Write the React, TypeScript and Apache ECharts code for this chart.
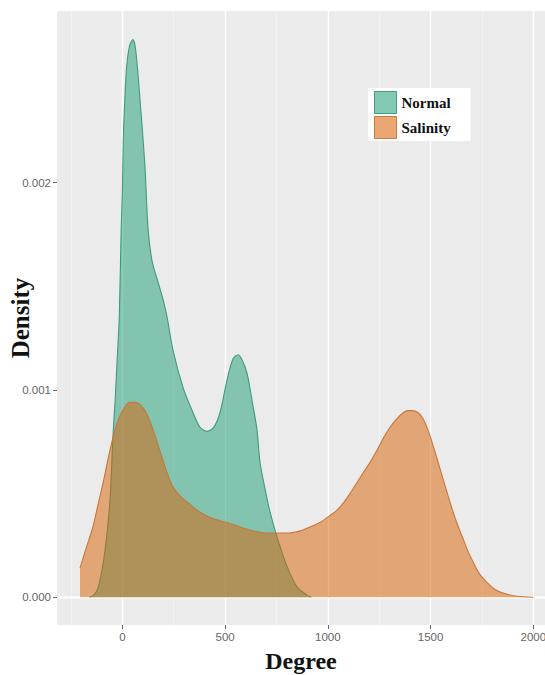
import React, { useEffect, useRef } from "react";
import * as echarts from "echarts";

const seriesNames = ["Normal", "Salinity"];

const normalDegree = [-160, -140, -120, -105, -94, -80, -60, -45, -35, -25, -15, -6, 0, 5, 12, 21, 35, 51, 65, 86, 110, 125, 145, 174, 200, 218, 247, 296, 344, 378, 412, 445, 475, 510, 539, 563, 585, 607, 631, 655, 670, 695, 719, 753, 801, 850, 899, 920];
const normalDensity = [0, 0.00001, 0.00004, 0.0001, 0.00016, 0.00026, 0.00047, 0.00079, 0.00095, 0.00115, 0.00135, 0.00176, 0.00195, 0.00222, 0.0024, 0.00256, 0.00266, 0.00269, 0.00264, 0.0024, 0.00208, 0.00178, 0.00162, 0.00152, 0.00143, 0.00135, 0.00119, 0.00101, 0.00089, 0.00082, 0.0008, 0.00082, 0.00089, 0.00105, 0.00115, 0.00117, 0.00114, 0.00108, 0.00095, 0.00081, 0.00065, 0.00052, 0.00041, 0.00029, 0.00015, 0.00005, 0.00001, 0];

const salinityDegree = [-206, -175, -143, -120, -94, -60, -26, 13, 40, 62, 85, 110, 130, 149, 175, 198, 225, 247, 280, 315, 378, 440, 510, 570, 636, 700, 753, 810, 865, 915, 962, 1005, 1045, 1080, 1108, 1140, 1172, 1205, 1240, 1272, 1303, 1335, 1367, 1390, 1411, 1440, 1464, 1490, 1513, 1537, 1561, 1585, 1610, 1635, 1659, 1683, 1707, 1740, 1775, 1810, 1853, 1920, 2000];
const salinityDensity = [0.00014, 0.00024, 0.00034, 0.00044, 0.00055, 0.00071, 0.00084, 0.00092, 0.00094, 0.00094, 0.00093, 0.0009, 0.00086, 0.00081, 0.00073, 0.00066, 0.00058, 0.00053, 0.00049, 0.00046, 0.00041, 0.00038, 0.00036, 0.00034, 0.00032, 0.00031, 0.00031, 0.00031, 0.00032, 0.00034, 0.00036, 0.00039, 0.00042, 0.00046, 0.0005, 0.00055, 0.0006, 0.00065, 0.00071, 0.00077, 0.00082, 0.00086, 0.00089, 0.0009, 0.0009, 0.00089, 0.00086, 0.0008, 0.00073, 0.00065, 0.00057, 0.00049, 0.00041, 0.00034, 0.00028, 0.00022, 0.00017, 0.00011, 0.00007, 0.00004, 0.00002, 0.000005, 0];

const xMajorTicks = [0, 500, 1000, 1500, 2000];
const xMinorTicks = [-250, 250, 750, 1250, 1750];
const yMajorTicks = [0, 0.001, 0.002];
const yMinorTicks = [0.0005, 0.0015, 0.0025];

const xTitle = "Degree";
const yTitle = "Density";

export default function App() {
  const ref = useRef<HTMLDivElement>(null);
  useEffect(() => {
    if (!ref.current) return;
    const chart = echarts.init(ref.current, undefined, { renderer: "svg" });
    const zip = (a: number[], b: number[]) => a.map((v, i) => [v, b[i]]);
    const gridLines = [
      ...xMinorTicks.map((v) => ({ xAxis: v, lineStyle: { color: "#f5f5f5", width: 0.8, type: "solid" } })),
      ...yMinorTicks.map((v) => ({ yAxis: v, lineStyle: { color: "#f5f5f5", width: 0.8, type: "solid" } })),
      ...xMajorTicks.map((v) => ({ xAxis: v, lineStyle: { color: "#ffffff", width: 1.4, type: "solid" } })),
      ...yMajorTicks.map((v) => ({ yAxis: v, lineStyle: { color: "#ffffff", width: 1.4, type: "solid" } })),
    ];
    const tickFont = { color: "#666666", fontSize: 11.5, fontFamily: "Liberation Sans, Arial, sans-serif" };
    chart.setOption({
      animation: false,
      backgroundColor: "#ffffff",
      grid: {
        left: 57,
        top: 11,
        right: 0,
        bottom: 50,
        show: true,
        backgroundColor: "#ebebeb",
        borderWidth: 0,
        containLabel: false,
        outerBoundsMode: "none",
      },
      xAxis: {
        type: "value",
        min: -318,
        max: 2057,
        name: xTitle,
        nameLocation: "middle",
        nameGap: 24,
        nameTextStyle: { fontFamily: "Liberation Serif, Times New Roman, serif", fontWeight: "bold", fontSize: 24, color: "#111" },
        axisLine: { show: false, onZero: false },
        axisTick: { show: true, customValues: xMajorTicks, length: 4, lineStyle: { color: "#666" } },
        axisLabel: { customValues: xMajorTicks, margin: 6, formatter: (v: number) => String(v), ...tickFont },
        splitLine: { show: false },
      },
      yAxis: {
        type: "value",
        min: -0.000134,
        max: 0.002828,
        name: yTitle,
        nameLocation: "middle",
        nameGap: 24,
        nameMoveOverlap: false,
        nameRotate: 90,
        nameTextStyle: { fontFamily: "Liberation Serif, Times New Roman, serif", fontWeight: "bold", fontSize: 25, color: "#111" },
        axisLine: { show: false, onZero: false },
        axisTick: { show: true, customValues: yMajorTicks, length: 4, lineStyle: { color: "#666" } },
        axisLabel: { customValues: yMajorTicks, margin: 6, formatter: (v: number) => v.toFixed(3), ...tickFont },
        splitLine: { show: false },
      },
      legend: {
        orient: "vertical",
        left: 368,
        top: 88,
        backgroundColor: "#ffffff",
        padding: [3, 20, 2, 6],
        itemGap: 2,
        itemWidth: 22,
        itemHeight: 22,
        icon: "rect",
        selectedMode: false,
        textStyle: { fontFamily: "Liberation Serif, Times New Roman, serif", fontWeight: "bold", fontSize: 15, color: "#111" },
        data: [
          { name: seriesNames[0], itemStyle: { color: "rgba(27,158,119,0.55)", borderColor: "#3f9c80", borderWidth: 1 } },
          { name: seriesNames[1], itemStyle: { color: "rgba(217,95,2,0.55)", borderColor: "#d07a3a", borderWidth: 1 } },
        ],
      },
      series: [
        {
          type: "line",
          name: "grid",
          data: [],
          z: 1,
          silent: true,
          markLine: { silent: true, z: 1, symbol: "none", label: { show: false }, data: gridLines, animation: false },
        },
        {
          type: "line",
          name: seriesNames[0],
          data: zip(normalDegree, normalDensity),
          z: 2,
          smooth: 0.3,
          showSymbol: false,
          symbol: "none",
          itemStyle: { color: "#1b9e77" },
          lineStyle: { color: "#3f9a7d", width: 1.1 },
          areaStyle: { color: "#1b9e77", opacity: 0.5 },
        },
        {
          type: "line",
          name: seriesNames[1],
          data: zip(salinityDegree, salinityDensity),
          z: 3,
          smooth: 0.3,
          showSymbol: false,
          symbol: "none",
          itemStyle: { color: "#d95f02" },
          lineStyle: { color: "#c9773a", width: 1.1 },
          areaStyle: { color: "#d95f02", opacity: 0.5 },
        },
      ],
    });
    return () => chart.dispose();
  }, []);
  return <div ref={ref} style={{ position: "fixed", left: 0, top: 0, width: 545, height: 675 }} />;
}
